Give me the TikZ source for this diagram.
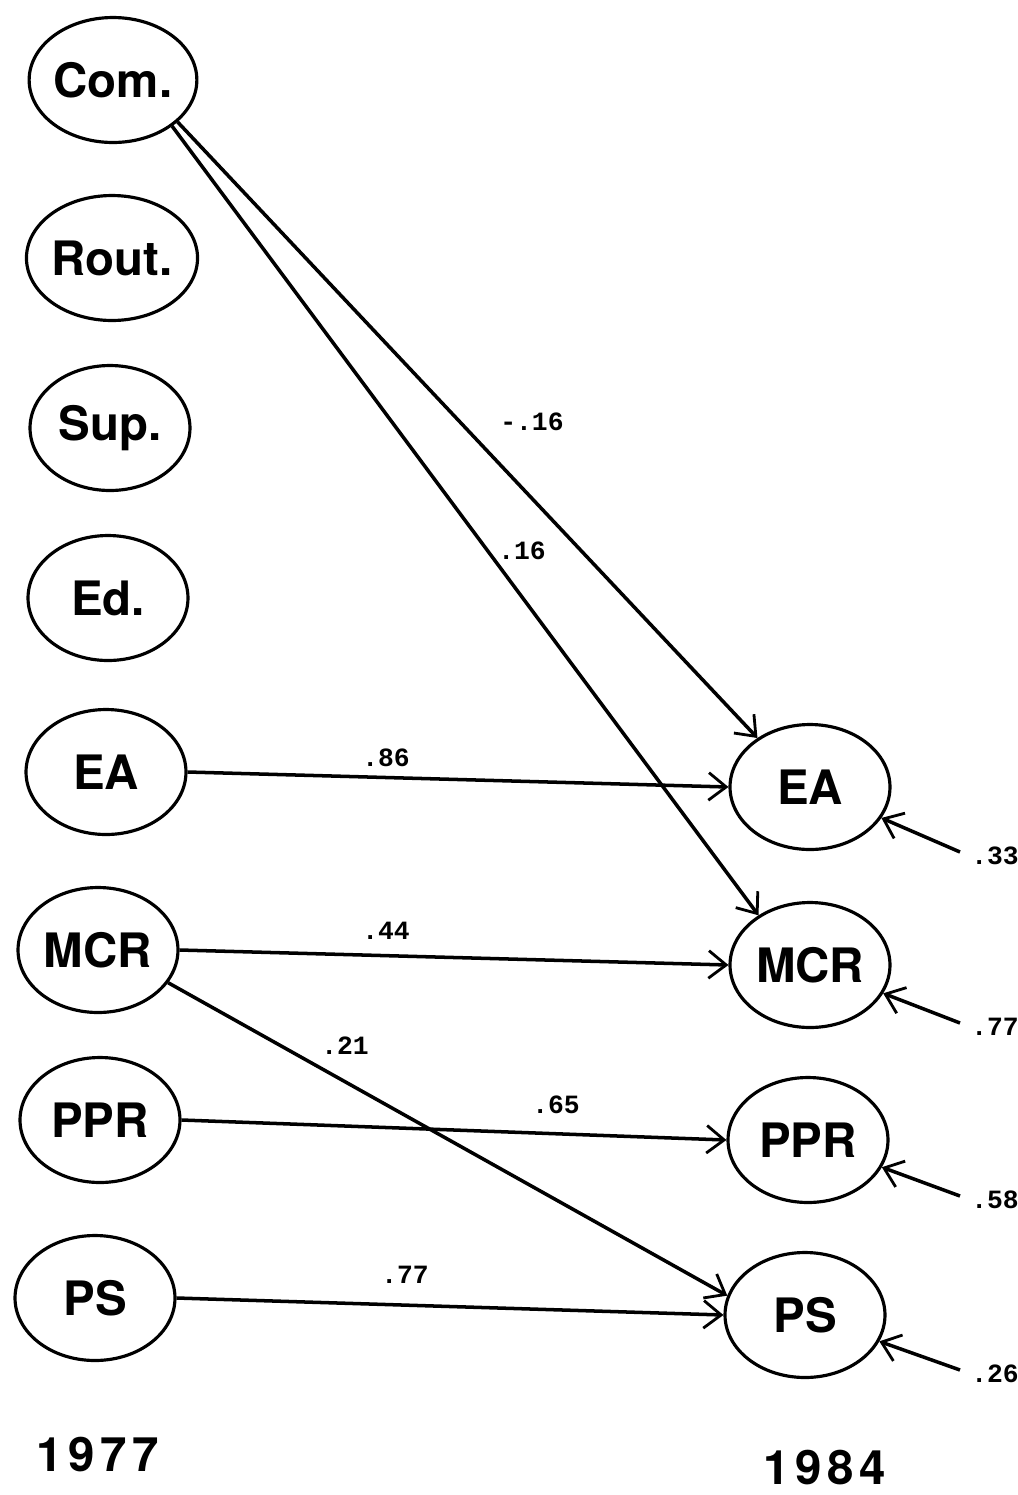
\documentclass[tikz,border=0pt]{standalone}
\usepackage{fontspec}
\setsansfont{TeX Gyre Heros}
\setmonofont{Liberation Mono}
\usetikzlibrary{positioning,shapes.geometric,arrows.meta}

\tikzset{
  var/.style={ellipse, draw, line width=1.8pt, minimum width=3.2cm, minimum height=2.5cm,
    inner sep=0pt, font=\sffamily\bfseries\fontsize{27}{29}\selectfont},
  path/.style={line width=2pt, -{Straight Barb[length=3.5mm,width=5.5mm,line width=1.6pt]}},
  coef/.style={font=\ttfamily\bfseries\fontsize{15}{17}\selectfont},
  year/.style={font=\sffamily\bfseries\fontsize{27}{29}\selectfont\addfontfeature{LetterSpace=12}}
}

\begin{document}
\begin{tikzpicture}[x=0.02cm, y=-0.02cm]
  \useasboundingbox (0,0) rectangle (1018,1495);

  % Left: 1977
  \foreach \name/\txt/\x/\y in {com/Com./113/80, rout/Rout./112/258, sup/Sup./110/428,
      ed/Ed./108/598, lEA/EA/106/772, lMCR/MCR/98/950, lPPR/PPR/100/1120, lPS/PS/95/1298} {
    \node (\name) at (\x,\y) [var] {\txt};
  }
  % Right: 1984
  \foreach \name/\txt/\x/\y in {rEA/EA/810/787, rMCR/MCR/810/965, rPPR/PPR/808/1140, rPS/PS/805/1315} {
    \node (\name) at (\x,\y) [var] {\txt};
  }

  % Paths
  \draw[path] (com.-33) -- (rEA.137);
  \draw[path] (com.-38) -- (rMCR.136);
  \draw[path] (lEA.east) -- (rEA.west);
  \draw[path] (lMCR.east) -- (rMCR.west);
  \draw[path] (lMCR.-25) -- (rPS.166);
  \draw[path] (lPPR.east) -- (rPPR.west);
  \draw[path] (lPS.east) -- (rPS.west);

  \node (c1) at (532,422) [coef] {-.16};
  \node (c2) at (522,551) [coef] {.16};
  \node (c3) at (386,758) [coef] {.86};
  \node (c4) at (386,931) [coef] {.44};
  \node (c5) at (345,1046) [coef] {.21};
  \node (c6) at (556,1105) [coef] {.65};
  \node (c7) at (405,1275) [coef] {.77};

  % Residuals
  \foreach \tgt/\val/\y in {rEA/.33/852, rMCR/.77/1023, rPPR/.58/1196, rPS/.26/1370} {
    \coordinate (e-\tgt) at (960,\y);
    \draw[path] (e-\tgt) -- (\tgt);
    \node (v-\tgt) at (995,\y+4) [coef] {\val};
  }

  \node (y1) at (98,1455) [year] {1977};
  \node (y2) at (825,1468) [year] {1984};
\end{tikzpicture}
\end{document}
